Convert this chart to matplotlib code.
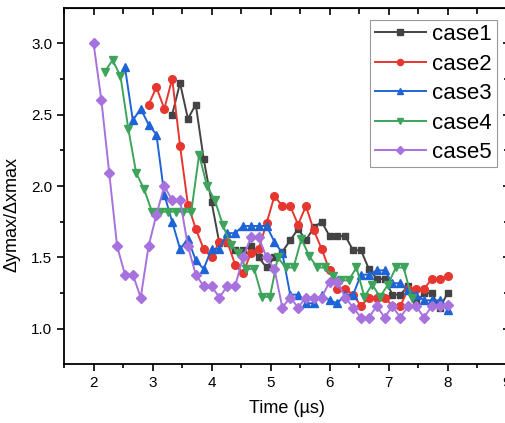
import numpy as np
import matplotlib
matplotlib.use("Agg")
import matplotlib.pyplot as plt
from matplotlib.ticker import MultipleLocator, FormatStrFormatter

plt.rcParams['font.family'] = ['Liberation Sans', 'DejaVu Sans']

# ---------------------------
# Data
# ---------------------------
dt = 6.0 / 45  # sampling step of the time grid (µs)

case1 = [2.50, 2.72, 2.47, 2.57, 2.19, 1.89, 1.60, 1.60, 1.55, 1.55, 1.58, 1.50,
         1.43, 1.50, 1.54, 1.62, 1.70, 1.62, 1.71, 1.75, 1.65, 1.65, 1.65, 1.55,
         1.55, 1.42, 1.35, 1.35, 1.24, 1.24, 1.30, 1.18, 1.25, 1.25, 1.145, 1.25]
case2 = [2.57, 2.69, 2.54, 2.75, 2.28, 1.87, 1.70, 1.56, 1.50, 1.61, 1.61, 1.45,
         1.39, 1.53, 1.56, 1.74, 1.93, 1.86, 1.86, 1.73, 1.86, 1.69, 1.56, 1.41,
         1.28, 1.28, 1.24, 1.16, 1.22, 1.22, 1.22, 1.16, 1.16, 1.28, 1.28, 1.28,
         1.35, 1.35, 1.37]
case3 = [2.83, 2.46, 2.54, 2.43, 2.36, 1.94, 1.75, 1.56, 1.63, 1.48, 1.42, 1.56,
         1.56, 1.67, 1.67, 1.72, 1.72, 1.72, 1.72, 1.61, 1.53, 1.24, 1.24, 1.18,
         1.18, 1.24, 1.20, 1.18, 1.24, 1.24, 1.38, 1.38, 1.41, 1.41, 1.32, 1.32,
         1.27, 1.24, 1.20, 1.20, 1.20, 1.13]
case4 = [2.80, 2.88, 2.77, 2.40, 2.09, 1.98, 1.82, 1.82, 1.82, 1.82, 1.82, 1.82,
         2.22, 2.00, 1.90, 1.73, 1.59, 1.53, 1.42, 1.42, 1.225, 1.225, 1.50, 1.43,
         1.43, 1.63, 1.51, 1.43, 1.43, 1.37, 1.34, 1.34, 1.43, 1.225, 1.31, 1.225,
         1.31, 1.43, 1.43, 1.22]
case5 = [3.00, 2.60, 2.09, 1.58, 1.38, 1.38, 1.22, 1.58, 1.80, 2.00, 1.90, 1.90,
         1.58, 1.38, 1.30, 1.30, 1.22, 1.30, 1.30, 1.50, 1.64, 1.64, 1.50, 1.42,
         1.15, 1.22, 1.15, 1.22, 1.22, 1.22, 1.33, 1.33, 1.22, 1.15, 1.08, 1.08,
         1.16, 1.08, 1.16, 1.08, 1.16, 1.16, 1.08, 1.16, 1.16, 1.17]

# start time of each case (µs)
starts = {'case1': 2.0 + 10 * dt, 'case2': 2.0 + 7 * dt, 'case3': 2.0 + 4 * dt,
          'case4': 2.19, 'case5': 2.0}

series = [
    ('case1', case1, '#434343', 's', 5.0),
    ('case2', case2, '#e6362f', 'o', 5.5),
    ('case3', case3, '#1f64d6', '^', 6.0),
    ('case4', case4, '#3ea45c', 'v', 6.0),
    ('case5', case5, '#a772dd', 'D', 5.0),
]

# ---------------------------
# Plotting
# ---------------------------
fig = plt.figure(figsize=(5.05, 4.23), dpi=100)
ax = fig.add_axes([64 / 505, 59 / 423, 445.5 / 505, 356 / 423])

for name, vals, color, marker, ms in series:
    t = starts[name] + dt * np.arange(len(vals))
    ax.plot(t, vals, color=color, marker=marker, markersize=ms, lw=1.4, label=name)

ax.set_xlim(1.5, 9.05)
ax.set_ylim(0.755, 3.245)
ax.xaxis.set_major_locator(MultipleLocator(1))
ax.xaxis.set_minor_locator(MultipleLocator(0.5))
ax.yaxis.set_major_locator(MultipleLocator(0.5))
ax.yaxis.set_minor_locator(MultipleLocator(0.25))
ax.yaxis.set_major_formatter(FormatStrFormatter('%.1f'))

ax.tick_params(which='both', direction='out', labelsize=11, width=1.2)
ax.tick_params(which='major', length=5)
ax.tick_params(which='minor', length=3)
for spine in ax.spines.values():
    spine.set_linewidth(1.3)

# top and right ticks point inward, no labels
top = ax.secondary_xaxis('top')
right = ax.secondary_yaxis('right')
for sec, axis in ((top, top.xaxis), (right, right.yaxis)):
    axis.set_major_locator(MultipleLocator(1 if sec is top else 0.5))
    axis.set_minor_locator(MultipleLocator(0.5 if sec is top else 0.25))
    sec.tick_params(which='both', direction='in', width=1.2, labeltop=False,
                    labelright=False)
    sec.tick_params(which='major', length=5)
    sec.tick_params(which='minor', length=4)

ax.set_xlabel('Time (µs)', fontsize=13, labelpad=7)
ax.set_ylabel('Δymax/Δxmax', fontsize=13, labelpad=2)
ax.yaxis.set_label_coords(-0.098, 0.42)

leg = ax.legend(loc='upper right', bbox_to_anchor=(0.971, 0.967), fontsize=16,
                frameon=True, fancybox=False, edgecolor='#999999', framealpha=1,
                handlelength=2.3, handletextpad=0.3, labelspacing=0.38,
                borderpad=0.2, borderaxespad=0.0, markerscale=0.8)
leg.get_frame().set_linewidth(0.8)

plt.savefig('out.png', dpi=100)
